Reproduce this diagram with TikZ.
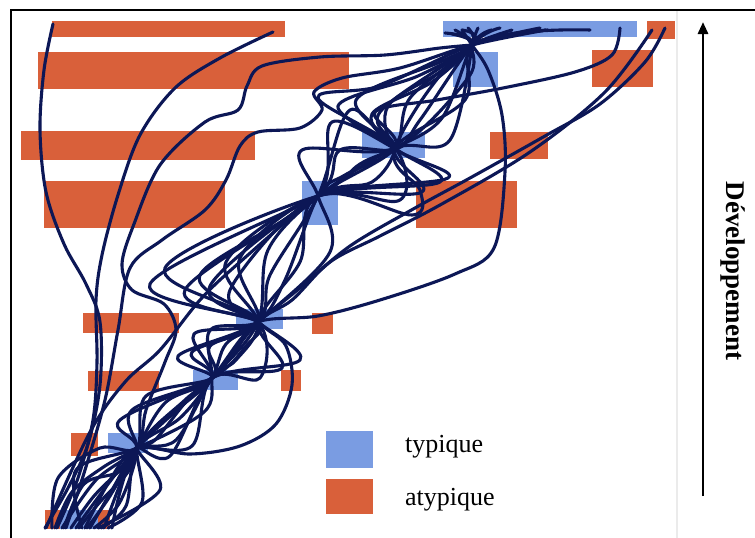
\documentclass[tikz,border=0pt]{standalone}
\usepackage{fontspec}
\setmainfont{Liberation Serif}
\usetikzlibrary{arrows.meta}
\definecolor{atyp}{HTML}{D9603A}
\definecolor{typ}{HTML}{7A9CE2}
\definecolor{navy}{HTML}{0C1756}
\begin{document}
\begin{tikzpicture}[x=1pt,y=-1pt,
  traj/.style={draw=navy, line width=3.1pt, line cap=round, line join=round},
  abar/.style={fill=atyp},
  tbar/.style={fill=typ},
  frame/.style={draw=black, line width=2pt},
  legtext/.style={font=\fontsize{26}{26}\selectfont, anchor=base west, inner sep=0pt}]
\useasboundingbox (0,0) rectangle (755,538);
\fill[white] (0,0) rectangle (755,538);
% separator and frame
\draw[draw=black!8, line width=1.5pt] (677,11) -- (677,538);
\draw[frame] (11,538) -- (11,10) -- (755,10);
% atypical bars
\fill[abar] (52,21) rectangle (285,37);
\fill[abar] (38,52) rectangle (349,89);
\fill[abar] (21,131) rectangle (255,160);
\fill[abar] (44,181) rectangle (225,228);
\fill[abar] (647,21) rectangle (675,39);
\fill[abar] (592,50) rectangle (653,87);
\fill[abar] (490,132) rectangle (548,159);
\fill[abar] (416,181) rectangle (517,228);
\fill[abar] (83,313) rectangle (179,333);
\fill[abar] (312,313) rectangle (333,334);
\fill[abar] (88,371) rectangle (159,391);
\fill[abar] (281,370) rectangle (301,391);
\fill[abar] (71,433) rectangle (98,456);
\fill[abar] (45,510) rectangle (110,529);
% typical bars
\fill[tbar] (443,21) rectangle (637,37);
\fill[tbar] (453,52) rectangle (498,87);
\fill[tbar] (362,132) rectangle (425,158);
\fill[tbar] (302,181) rectangle (338,225);
\fill[tbar] (236,309) rectangle (283,329);
\fill[tbar] (193,370) rectangle (238,390);
\fill[tbar] (108,433) rectangle (148,453);
\fill[tbar] (60,510) rectangle (98,529);
% trajectories (typical)
\draw[traj] plot[smooth,tension=0.55] coordinates {(55,528) (72,492) (105,466) (137,448) (158,424) (212,378) (192,352) (258,322) (200,275) (318,196) (332,122) (395,148) (338,106) (418,76) (472,45) (452,34)};
\draw[traj] plot[smooth,tension=0.55] coordinates {(64,528) (84,484) (118,472) (137,448) (176,440) (212,378) (236,360) (258,322) (226,262) (318,196) (440,182) (395,148) (372,114) (432,82) (472,45) (468,28)};
\draw[traj] plot[smooth,tension=0.55] coordinates {(71,528) (94,496) (124,466) (137,448) (132,410) (212,378) (210,346) (258,322) (150,284) (318,196) (360,164) (395,148) (442,118) (472,45) (492,30)};
\draw[traj] plot[smooth,tension=0.55] coordinates {(79,528) (100,502) (128,472) (137,448) (192,446) (212,378) (282,368) (258,322) (300,262) (318,196) (448,178) (395,148) (388,106) (440,72) (472,45) (512,30)};
\draw[traj] plot[smooth,tension=0.55] coordinates {(87,528) (110,496) (137,448) (166,402) (212,378) (194,334) (258,322) (240,258) (318,196) (422,192) (395,148) (465,100) (472,45) (548,30)};
\draw[traj] plot[smooth,tension=0.55] coordinates {(94,528) (120,502) (137,448) (120,420) (212,378) (246,346) (258,322) (185,290) (318,196) (340,150) (395,148) (356,100) (440,62) (472,45) (455,30)};
\draw[traj] plot[smooth,tension=0.55] coordinates {(101,528) (126,506) (137,448) (180,418) (212,378) (226,344) (258,322) (330,252) (318,196) (302,150) (395,148) (468,78) (472,45) (478,28)};
\draw[traj] plot[smooth,tension=0.55] coordinates {(108,528) (142,502) (137,448) (155,440) (212,378) (300,360) (258,322) (210,286) (318,196) (372,182) (395,148) (380,112) (472,45) (462,30)};
\draw[traj] plot[smooth,tension=0.55] coordinates {(52,528) (58,478) (100,448) (137,448) (146,396) (212,378) (178,356) (258,322) (270,275) (318,196) (350,110) (395,148) (420,120) (472,45) (500,28)};
\draw[traj] plot[smooth,tension=0.55] coordinates {(98,528) (160,490) (137,448) (170,456) (212,378) (260,378) (258,322) (165,268) (318,196) (400,200) (395,148) (318,98) (380,86) (472,45) (540,28)};
\draw[traj] plot[smooth,tension=0.55] coordinates {(82,528) (76,470) (137,448) (204,412) (212,378) (210,330) (258,322) (285,280) (318,196) (345,175) (395,148) (410,98) (472,45) (445,33)};
% trajectories (atypical)
\draw[traj] plot[smooth,tension=0.55] coordinates {(45,528) (68,488) (88,444) (100,385) (100,322) (86,284) (64,244) (46,192) (40,130) (44,70) (53,24)};
\draw[traj] plot[smooth,tension=0.55] coordinates {(57,528) (78,478) (93,420) (97,362) (96,300) (102,255) (118,195) (140,135) (175,88) (220,58) (273,32)};
\draw[traj] plot[smooth,tension=0.55] coordinates {(62,528) (96,480) (137,448) (146,410) (165,362) (176,330) (164,304) (132,290) (122,264) (134,224) (160,165) (205,122) (238,110) (247,86) (262,66) (320,57) (385,55) (440,48) (472,45)};
\draw[traj] plot[smooth,tension=0.55] coordinates {(66,528) (85,470) (105,400) (118,330) (130,268) (162,240) (205,210) (226,180) (240,146) (258,132) (300,128) (322,110) (314,92) (342,78) (400,68) (472,45) (546,30)};
\draw[traj] plot[smooth,tension=0.55] coordinates {(90,528) (112,490) (137,448) (175,410) (212,378) (235,352) (258,322) (318,316) (380,300) (455,274) (494,248) (505,172) (502,115) (488,70) (472,45) (462,30)};
\draw[traj] plot[smooth,tension=0.55] coordinates {(104,528) (137,448) (185,400) (212,378) (240,340) (258,322) (300,288) (350,246) (415,208) (470,178) (545,136) (600,104) (645,62) (665,28)};
\draw[traj] plot[smooth,tension=0.55] coordinates {(112,528) (137,448) (212,378) (258,322) (292,300) (330,262) (380,236) (440,205) (530,152) (605,92) (652,30)};
\draw[traj] plot[smooth,tension=0.55] coordinates {(76,528) (137,448) (212,378) (258,322) (268,250) (318,196) (395,148) (375,112) (437,100) (503,88) (575,72) (612,55) (620,28)};
\draw[traj] plot[smooth,tension=0.55] coordinates {(85,528) (110,480) (137,448) (190,454) (240,446) (276,424) (292,385) (286,346) (262,325) (230,290) (318,196) (412,215) (420,190) (395,148) (472,45) (590,30)};
\draw[traj] plot[smooth,tension=0.55] coordinates {(46,528) (90,432) (125,382) (160,350) (200,300) (240,262) (318,196) (395,148) (450,140) (472,45)};
% legend
\fill[tbar] (326,431) rectangle (373,468);
\fill[abar] (326,479) rectangle (373,514);
\node[legtext] (ltyp) at (405,452) {typique};
\node[legtext] (latyp) at (405,505) {atypique};
% development axis
\coordinate (arrS) at (703,496);
\coordinate (arrE) at (703,22);
\draw[line width=2.8pt, -{Triangle[length=12pt,width=10pt]}] (arrS) -- (arrE);
\node[rotate=-90, font=\bfseries\fontsize{27}{27}\selectfont] (dev) at (733,271) {Développement};
\end{tikzpicture}
\end{document}
